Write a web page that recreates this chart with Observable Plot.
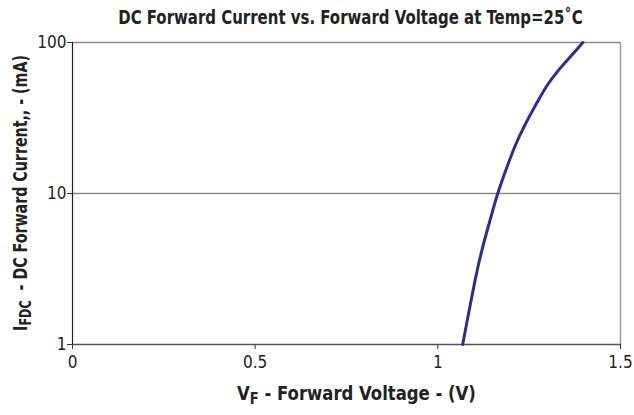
<!DOCTYPE html>
<html>
<head>
<meta charset="utf-8">
<script src="https://cdn.jsdelivr.net/npm/d3@7"></script>
<script src="https://cdn.jsdelivr.net/npm/@observablehq/plot@0.6"></script>
<style>
  html, body { margin: 0; padding: 0; background: #fff; }
  #chart { width: 634px; height: 415px; }
  svg text { font-family: "DejaVu Sans Condensed", "DejaVu Sans", sans-serif; }
</style>
</head>
<body>
<div id="chart"></div>
<script>
// Forward voltage (V) and DC forward current (mA)
const voltage = [1.068, 1.084, 1.100, 1.116, 1.135, 1.149, 1.164, 1.189, 1.212, 1.240, 1.272, 1.299, 1.326, 1.358, 1.397];
const current = [1.0, 1.6, 2.52, 3.79, 5.69, 7.5, 10, 14.9, 20.8, 28.9, 40.2, 51.9, 63.6, 78.0, 100];
const xTicks = [0, 0.5, 1, 1.5];
const yTicks = [1, 10, 100];
const gridY = [10, 100];

const title = "DC Forward Current vs. Forward Voltage at Temp=25˚C";

const data = voltage.map((v, i) => ({v, i: current[i]}));

const font = '"DejaVu Sans Condensed", "DejaVu Sans", sans-serif';

const plot = Plot.plot({
  width: 634,
  height: 415,
  marginLeft: 72,
  marginRight: 14,
  marginTop: 42,
  marginBottom: 71,
  style: {fontSize: "17px", fontFamily: font, color: "#222"},
  x: {domain: [0, 1.5], label: null},
  y: {type: "log", domain: [1, 100], label: null},
  marks: [
    Plot.ruleY(gridY, {stroke: "#8a8a8a", strokeWidth: 1.5}),
    Plot.ruleX([1.5], {stroke: "#9a9a9a", strokeWidth: 1.5}),
    Plot.axisX({ticks: xTicks, tickFormat: d => String(d), tickSize: 5, tickPadding: 6, stroke: "#333", label: null}),
    Plot.axisY({ticks: yTicks, tickFormat: d => String(d), tickSize: 5, tickPadding: 1, stroke: "#333", label: null}),
    Plot.ruleY([1], {stroke: "#555", strokeWidth: 1.5}),
    Plot.ruleX([0], {stroke: "#222", strokeWidth: 1.2}),
    Plot.line(data, {x: "v", y: "i", stroke: "#2b2f8f", strokeWidth: 3, curve: "natural"})
  ]
});

document.getElementById("chart").appendChild(plot);

const svg = d3.select(plot);

// Horizontally condense a text to a target width around its centre
function fit(sel, cx, cy, target, rotate) {
  const w = sel.node().getComputedTextLength();
  const s = w > 0 ? target / w : 1;
  sel.attr("x", 0).attr("y", 0).attr("text-anchor", "middle")
    .attr("transform", `translate(${cx},${cy})${rotate ? " rotate(-90)" : ""} scale(${s},1)`);
}

// Title
const t = svg.append("text")
  .attr("font-family", font)
  .attr("font-weight", "bold")
  .attr("font-size", 19)
  .attr("fill", "#222")
  .text(title);
fit(t, 350.5, 24, 465, false);

// X axis label with subscript
const xl = svg.append("text")
  .attr("font-family", font)
  .attr("font-weight", "bold")
  .attr("font-size", 19)
  .attr("fill", "#222");
xl.append("tspan").text("V");
xl.append("tspan").attr("font-size", 15).attr("dy", 4).text("F");
xl.append("tspan").attr("dy", -4).text(" - Forward Voltage - (V)");
fit(xl, 356.5, 400, 239, false);

// Y axis label with subscript
const yl = svg.append("text")
  .attr("font-family", font)
  .attr("font-weight", "bold")
  .attr("font-size", 19)
  .attr("fill", "#222");
yl.append("tspan").text("I");
yl.append("tspan").attr("font-size", 15).attr("dy", 4).text("FDC");
yl.append("tspan").attr("dy", -4).text("  - DC Forward Current,, - (mA)");
fit(yl, 27, 193, 276, true);
</script>
</body>
</html>
